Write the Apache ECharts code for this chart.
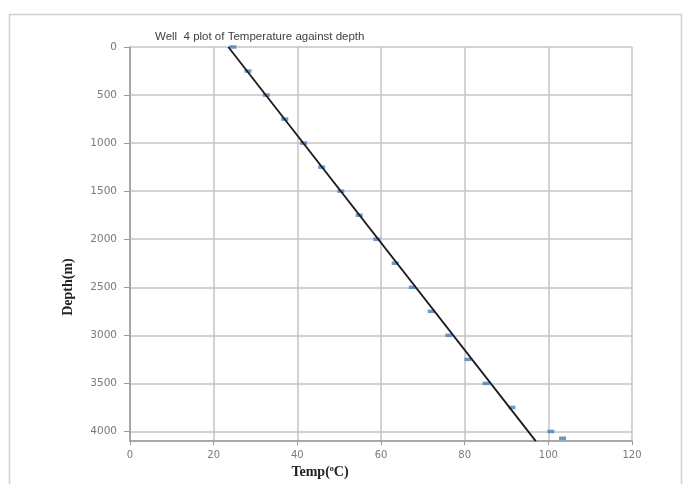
<!DOCTYPE html>
<html><head><meta charset="utf-8">
<script src="https://cdn.jsdelivr.net/npm/echarts@6/dist/echarts.min.js"></script>
<style>html,body{margin:0;padding:0;background:#fff}#c{width:685px;height:484px}</style>
</head><body><div id="c"></div>
<script>
const titleText = 'Well  4 plot of Temperature against depth';
const depths = [0,250,500,750,1000,1250,1500,1750,2000,2250,2500,2750,3000,3250,3500,3750,4000,4070];
const temps  = [24.6,28.2,32.6,37.0,41.5,45.8,50.4,54.8,59.0,63.4,67.5,72.0,76.2,80.8,85.1,91.3,100.6,103.4];
const trendTemps = [23.5, 97.0];
const trendDepths = [0, 4100];
const xTicks = {min:0, max:120, interval:20};
const yTicks = {min:0, max:4100, interval:500};

const chart = echarts.init(document.getElementById('c'));
chart.setOption({
  animation:false,
  backgroundColor:'#fff',
  graphic:[{type:'rect', left:7, top:12, shape:{width:672, height:480},
    style:{fill:'none', stroke:'#d0d0d0', lineWidth:1.5}}],
  title:{text:titleText, left:150, top:26,
    textStyle:{fontFamily:'Liberation Sans', fontSize:11.5, fontWeight:'normal', color:'#404040'}},
  grid:{left:130, right:53, top:47, bottom:41},
  xAxis:{type:'value', min:xTicks.min, max:xTicks.max, interval:xTicks.interval,
    name:'{a|Temp(}{s|o}{a|C)}', nameLocation:'middle', nameGap:22,
    nameTextStyle:{padding:[0,122,0,0], rich:{
      a:{fontFamily:'Liberation Serif', fontWeight:'bold', fontSize:14, color:'#222'},
      s:{fontFamily:'Liberation Serif', fontWeight:'bold', fontSize:8, color:'#222', verticalAlign:'top', padding:[0,0,6,0]}}},
    axisLine:{onZero:false, lineStyle:{color:'#9a9a9a', width:1.5}},
    axisTick:{show:true, length:4, lineStyle:{color:'#9a9a9a'}},
    axisLabel:{fontFamily:'DejaVu Sans', fontSize:10, color:'#7a7a7a', margin:9},
    splitLine:{show:true, lineStyle:{color:'#c4c4c4', width:1.5}}},
  yAxis:{type:'value', inverse:true, min:yTicks.min, max:yTicks.max, interval:yTicks.interval,
    name:'Depth(m)', nameLocation:'middle', nameGap:55, nameRotate:90,
    nameTextStyle:{fontFamily:'Liberation Serif', fontWeight:'bold', fontSize:14, color:'#222', padding:[0,86,0,0]},
    axisLine:{show:true, onZero:false, lineStyle:{color:'#9a9a9a', width:1.5}},
    axisTick:{show:true, length:6, lineStyle:{color:'#9a9a9a'}},
    axisLabel:{fontFamily:'DejaVu Sans', fontSize:10.5, color:'#7a7a7a', margin:13, showMaxLabel:false,
      formatter:v=>String(v)},
    splitLine:{show:true, lineStyle:{color:'#c4c4c4', width:1.5}}},
  series:[
    {type:'line', data:trendTemps.map((t,i)=>[t,trendDepths[i]]), symbol:'none',
      lineStyle:{color:'#1a1a1a', width:1.8}, z:3},
    {type:'scatter', data:temps.map((t,i)=>[t,depths[i]]), symbol:'rect', symbolSize:[7,3.5],
      itemStyle:{color:'#4a7ebb'}, z:2}
  ]
});
</script></body></html>
